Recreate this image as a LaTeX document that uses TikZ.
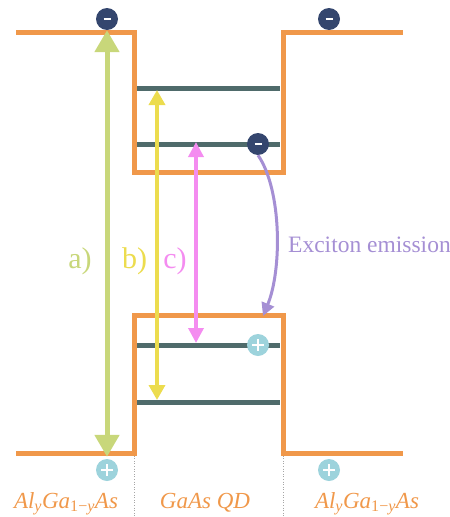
\documentclass[tikz,border=0pt]{standalone}
\usepackage{fontspec}
\setmainfont{Liberation Serif}
\usetikzlibrary{arrows.meta}
\definecolor{band}{HTML}{F0984A}
\definecolor{lvl}{HTML}{4F6B6B}
\definecolor{elec}{HTML}{34466E}
\definecolor{hole}{HTML}{9DD3DC}
\definecolor{ga}{HTML}{C8D77A}
\definecolor{gb}{HTML}{ECDC4E}
\definecolor{gc}{HTML}{F48CF0}
\definecolor{gp}{HTML}{A58FD4}
\tikzset{
  bandline/.style={draw=band,line width=5pt,line join=miter},
  lvlline/.style={draw=lvl,line width=5pt},
  electron/.style={circle,fill=elec,minimum size=22pt,inner sep=0pt,
    path picture={\draw[white,line width=2pt] ([xshift=-3.5pt]path picture bounding box.center)--([xshift=3.5pt]path picture bounding box.center);}},
  hole/.style={circle,fill=hole,minimum size=22pt,inner sep=0pt,
    path picture={\draw[white,line width=1.3pt] ([xshift=-6pt]path picture bounding box.center)--([xshift=6pt]path picture bounding box.center)
      ([yshift=-6pt]path picture bounding box.center)--([yshift=6pt]path picture bounding box.center);}},
  transA/.style={draw=ga,line width=5pt,{Triangle[width=24pt,length=22pt]}-{Triangle[width=24pt,length=22pt]}},
  transB/.style={draw=gb,line width=3.5pt,{Triangle[width=16pt,length=15pt]}-{Triangle[width=16pt,length=15pt]}},
  transC/.style={draw=gc,line width=3.5pt,{Triangle[width=15pt,length=15pt]}-{Triangle[width=15pt,length=15pt]}},
  emis/.style={draw=gp,line width=3pt,-{Triangle[width=13pt,length=13pt]}},
  lab/.style={font=\fontsize{30}{32}\selectfont,inner sep=0pt},
  matlab/.style={text=band,font=\fontsize{23}{25}\selectfont\itshape,inner sep=0pt,anchor=base},
  sep/.style={draw=gray!70,dotted,line width=0.6pt}
}
\begin{document}
\begin{tikzpicture}[x=1pt,y=-1pt]
\useasboundingbox (0,0) rectangle (450,517);
% separators
\draw[sep] (134,453) -- (134,517);
\draw[sep] (283,453) -- (283,517);
% conduction band
\draw[bandline] (16,32) -- (134,32) -- (134,172) -- (283,172) -- (283,32) -- (403,32);
% valence band
\draw[bandline] (16,453) -- (134,453) -- (134,315) -- (283,315) -- (283,453) -- (403,453);
% confined levels
\draw[lvlline] (137,88) coordinate (ce2l) -- (280,88) coordinate (ce2r);
\draw[lvlline] (137,144) coordinate (ce1l) -- (280,144) coordinate (ce1r);
\draw[lvlline] (137,345) coordinate (hh1l) -- (280,345) coordinate (hh1r);
\draw[lvlline] (137,402) coordinate (hh2l) -- (280,402) coordinate (hh2r);
% carriers
\node[electron] (e1) at (107,19) {};
\node[electron] (e2) at (329,19) {};
\node[electron] (e3) at (258,144) {};
\node[hole] (h1) at (107,470) {};
\node[hole] (h2) at (329,470) {};
\node[hole] (h3) at (258,345) {};
% transitions
\coordinate (bt) at (157,90);
\coordinate (bb) at (157,400);
\coordinate (ct) at (196,142);
\coordinate (cb) at (196,343);
\draw[transA] ([yshift=2pt]h1.north) -- (e1.south);
\draw[transB] (bb) -- (bt);
\draw[transC] (cb) -- (ct);
\coordinate (emEnd) at (263,316);
\draw[emis] (e3.south) .. controls (282,190) and (282,270) .. (emEnd);
% labels
\node[lab,text=ga] (la) at (80,261) {a)};
\node[lab,text=gb] (lb) at (134.5,261) {b)};
\node[lab,text=gc] (lc) at (175,261) {c)};
\node[text=gp,font=\fontsize{23.5}{25}\selectfont,anchor=base west,inner sep=0pt] (em) at (288,252) {Exciton emission};
\node[matlab] (m1) at (66,508) {Al\textsubscript{y}Ga\textsubscript{\upshape 1−\itshape y}As};
\node[matlab] (m2) at (205,508) {GaAs QD};
\node[matlab] (m3) at (367,508) {Al\textsubscript{y}Ga\textsubscript{\upshape 1−\itshape y}As};
\end{tikzpicture}
\end{document}
